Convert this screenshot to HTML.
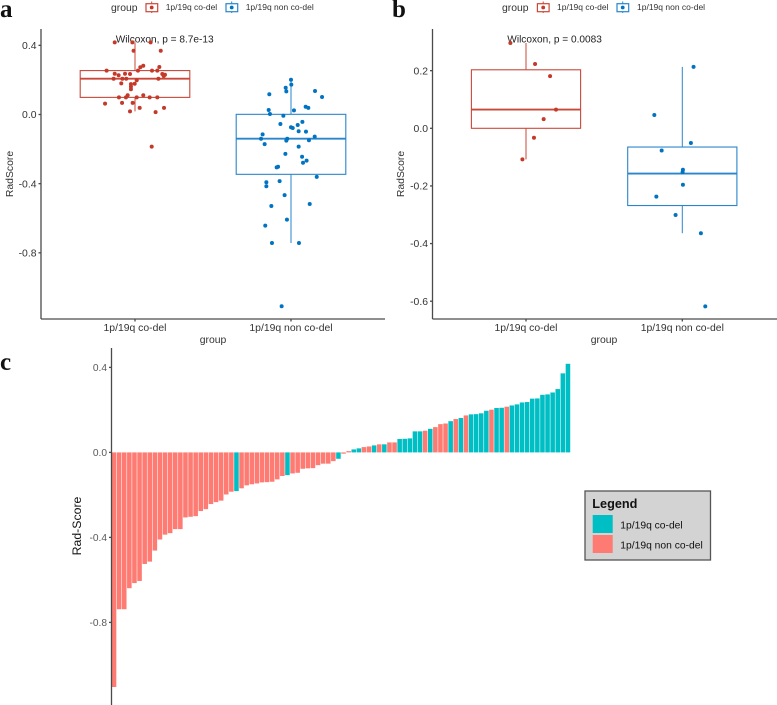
<!DOCTYPE html>
<html lang="en">
<head>
<meta charset="utf-8">
<title>RadScore by 1p/19q status</title>
<style>
html,body{margin:0;padding:0;background:#fff;width:777px;height:705px;overflow:hidden}
svg{display:block;font-family:"Liberation Sans",sans-serif}
.tick{font-size:10.4px;fill:#333}
.tickc{font-size:10.2px;fill:#5a5a5a}
.ax{stroke:#4a4a4a;stroke-width:1.3;fill:none}
.lt{font-size:8.5px;fill:#333}
.gt{font-size:10.4px;fill:#333}
.pl{font-family:"Liberation Serif",serif;font-weight:bold;font-size:25px;fill:#111}
</style>
</head>
<body>
<svg id="chart" width="777" height="705" viewBox="0 0 777 705" xmlns="http://www.w3.org/2000/svg">
  <text class="pl" x="0" y="17">a</text>
  <text class="pl" x="392" y="17">b</text>
  <text class="pl" x="0" y="370">c</text>

  <g>
    <text class="gt" x="111" y="11">group</text>
    <line x1="151.7" x2="151.7" y1="1.5" y2="13" stroke="#C9483A"/>
    <rect x="146" y="3.7" width="11.7" height="8" fill="#fff" stroke="#C9483A" stroke-width="1.2"/>
    <circle cx="151.7" cy="7.5" r="1.9" fill="#C4392A"/>
    <text class="lt" x="165.7" y="10.2">1p/19q co-del</text>
    <line x1="231.7" x2="231.7" y1="1.5" y2="13" stroke="#2A86CC"/>
    <rect x="226" y="3.7" width="11.7" height="8" fill="#fff" stroke="#2A86CC" stroke-width="1.2"/>
    <circle cx="231.7" cy="7.5" r="1.9" fill="#0073C2"/>
    <text class="lt" x="245.7" y="10.2">1p/19q non co-del</text>
  </g>
  <g>
    <text class="gt" x="502" y="11">group</text>
    <line x1="543.2" x2="543.2" y1="1.5" y2="13" stroke="#C9483A"/>
    <rect x="537.4" y="3.7" width="11.7" height="8" fill="#fff" stroke="#C9483A" stroke-width="1.2"/>
    <circle cx="543.2" cy="7.5" r="1.9" fill="#C4392A"/>
    <text class="lt" x="557" y="10.2">1p/19q co-del</text>
    <line x1="622.7" x2="622.7" y1="1.5" y2="13" stroke="#2A86CC"/>
    <rect x="617" y="3.7" width="11.7" height="8" fill="#fff" stroke="#2A86CC" stroke-width="1.2"/>
    <circle cx="622.7" cy="7.5" r="1.9" fill="#0073C2"/>
    <text class="lt" x="637" y="10.2">1p/19q non co-del</text>
  </g>

  <text class="gt" x="213" y="343" text-anchor="middle">group</text>
  <text class="gt" x="604" y="343" text-anchor="middle">group</text>
  <text class="gt" transform="translate(13 174) rotate(-90)" text-anchor="middle">RadScore</text>
  <text class="gt" transform="translate(404 174) rotate(-90)" text-anchor="middle">RadScore</text>
  <text x="115.7" y="42.5" font-size="10.1" fill="#222">Wilcoxon, p = 8.7e-13</text>
  <text x="507.3" y="42.5" font-size="10.1" fill="#222">Wilcoxon, p = 0.0083</text>
  <text transform="translate(81 526) rotate(-90)" text-anchor="middle" font-size="12.3" fill="#111">Rad-Score</text>

  <g>
    <rect x="585" y="491" width="125.5" height="69" fill="#D3D3D3" stroke="#555" stroke-width="1.3"/>
    <text x="592.3" y="508" font-size="12.7" font-weight="bold" fill="#111">Legend</text>
    <rect x="592.7" y="515" width="20" height="18" fill="#00BFC4"/>
    <rect x="592.7" y="535" width="20" height="18" fill="#FD7B72"/>
    <text x="620.3" y="528.5" font-size="10.3" fill="#111">1p/19q co-del</text>
    <text x="620.3" y="548.5" font-size="10.3" fill="#111">1p/19q non co-del</text>
  </g>
</svg>
<script>
// ----- Panel a data -----
const categories = ['1p/19q co-del', '1p/19q non co-del'];
const aTicks = [0.4, 0.0, -0.4, -0.8];
const aTickLabels = ['0.4', '0.0', '-0.4', '-0.8'];
const aCodelValues = [.417,.417,.417,.369,.369,.282,.273,.275,.254,.254,.254,.254,.236,.236,.234,.227,.234,.230,.223,.207,.207,.207,.207,.198,.180,.176,.178,.161,.146,.111,.099,.099,.099,.111,.099,.099,.063,.067,.067,.038,.038,.018,.014,-.186];
const aCodelJitter = [-.130,-.017,.100,-.009,.165,.053,.034,.156,-.182,.019,.109,.143,-.130,-.064,-.032,-.105,.175,.192,.184,-.137,-.081,-.056,.150,.011,-.088,-.026,-.002,-.026,-.026,-.047,-.103,-.058,.011,.053,.094,.143,-.192,-.083,-.015,.030,.186,-.032,.132,.107];
const aNonValues = [.201,.173,.155,.134,.136,.117,.101,.045,.038,.026,.024,.003,-.007,-.055,-.043,-.061,-.074,-.078,-.097,-.099,-.115,-.128,-.140,-.140,-.151,-.149,-.171,-.186,-.228,-.244,-.267,-.279,-.302,-.306,-.361,-.392,-.385,-.415,-.466,-.518,-.529,-.608,-.643,-.743,-.743,-1.109];
const aNonJitter = [0,.002,-.034,-.030,.154,-.139,.199,.094,.111,-.143,.019,-.135,-.049,-.068,.073,.043,0,.011,.049,.096,-.182,.152,-.192,-.024,-.030,.115,-.169,.049,-.036,.071,.100,.077,-.083,-.092,.165,-.158,-.073,-.158,-.041,.120,-.126,-.026,-.165,-.122,.051,-.060];
const aQ1 = [.099, -.346];
const aMedian = [.207, -.140];
const aQ3 = [.254, .001];
const aWhiskerLow = [.018, -.743];
const aWhiskerHigh = [.417, .201];

// ----- Panel b data -----
const bTicks = [0.2, 0.0, -0.2, -0.4, -0.6];
const bTickLabels = ['0.2', '0.0', '-0.2', '-0.4', '-0.6'];
const bCodelValues = [.296,.223,.181,.065,.032,-.033,-.108];
const bCodelJitter = [-.100,.058,.154,.192,.113,.051,-.023];
const bNonValues = [.213,.046,-.051,-.077,-.144,-.152,-.196,-.237,-.301,-.364,-.618];
const bNonJitter = [.072,-.179,.055,-.132,.004,.002,.004,-.166,-.043,.119,.147];
const bQ1 = [0.0, -.268];
const bMedian = [.065, -.157];
const bQ3 = [.203, -.065];
const bWhiskerLow = [-.108, -.364];
const bWhiskerHigh = [.296, .213];

// ----- Panel c data -----
const cTicks = [0.4, 0.0, -0.4, -0.8];
const cTickLabels = ['0.4', '0.0', '-0.4', '-0.8'];
const cBarValues = [-1.104,-.738,-.738,-.639,-.615,-.605,-.525,-.514,-.462,-.41,-.387,-.38,-.361,-.361,-.306,-.303,-.30,-.276,-.267,-.243,-.234,-.227,-.198,-.185,-.182,-.169,-.155,-.15,-.146,-.141,-.14,-.138,-.127,-.111,-.107,-.099,-.096,-.077,-.075,-.074,-.06,-.053,-.053,-.041,-.03,-.006,.006,.014,.019,.025,.028,.033,.038,.038,.047,.047,.063,.064,.066,.099,.099,.102,.111,.119,.133,.136,.147,.157,.162,.174,.179,.180,.184,.196,.201,.209,.210,.215,.221,.226,.235,.237,.253,.254,.271,.273,.282,.298,.372,.417];
const cBarGroups = ['n','n','n','n','n','n','n','n','n','n','n','n','n','n','n','n','n','n','n','n','n','n','n','n','c','n','n','n','n','n','n','n','n','n','c','n','n','n','n','n','n','n','n','n','c','n','n','c','c','n','n','c','n','c','n','n','c','c','c','c','c','n','c','n','n','n','c','n','c','n','c','c','c','c','n','c','c','n','c','c','c','c','c','c','c','c','c','c','c','c'];

// ----- Drawing -----
const NS = 'http://www.w3.org/2000/svg';
const root = document.getElementById('chart');
const RED_LINE = '#C9483A', RED_DOT = '#C4392A', BLUE_LINE = '#2A86CC', BLUE_DOT = '#0073C2';

function make(tag, attrs, parent) {
  const node = document.createElementNS(NS, tag);
  for (const k in attrs) node.setAttribute(k, attrs[k]);
  (parent || root).appendChild(node);
  return node;
}

function drawAxes(p, prefix, ticks, labels, tickClass, withCategories) {
  const g = make('g', {});
  
  
  const yAxis = make('line', {x1: p.left, x2: p.left, y1: p.top, y2: p.bottom, class: 'ax'}, g);
  
  
  ticks.forEach(function (t, i) {
    const y = p.y(t);
    const tk = make('line', {x1: p.left - 2.5, x2: p.left, y1: y, y2: y, class: 'ax'}, g);
    
    
    const lb = make('text', {x: p.left - 4.5, y: y + 3.6, 'text-anchor': 'end', class: tickClass}, g);
    lb.textContent = labels[i];
    
    
  });
  if (withCategories) {
    const xAxis = make('line', {x1: p.left, x2: p.right, y1: p.bottom, y2: p.bottom, class: 'ax'}, g);
    
    
    categories.forEach(function (c, i) {
      const x = p.x(i);
      const tk = make('line', {x1: x, x2: x, y1: p.bottom, y2: p.bottom + 2.5, class: 'ax'}, g);
      
      
      const lb = make('text', {x: x, y: p.bottom + 12, 'text-anchor': 'middle', class: 'tick'}, g);
      lb.textContent = c;
      
      
    });
  }
}

function drawBoxes(p, prefix, q1, med, q3, lo, hi) {
  [RED_LINE, BLUE_LINE].forEach(function (color, i) {
    const x = p.x(i), hw = p.boxHalf;
    const g = make('g', {stroke: color, fill: 'none'});
    
    
    const up = make('line', {x1: x, x2: x, y1: p.y(hi[i]), y2: p.y(q3[i]), 'stroke-width': 1}, g);
    
    
    const dn = make('line', {x1: x, x2: x, y1: p.y(q1[i]), y2: p.y(lo[i]), 'stroke-width': 1}, g);
    
    
    const box = make('rect', {x: x - hw, width: hw * 2, y: p.y(q3[i]), height: p.y(q1[i]) - p.y(q3[i]), 'stroke-width': 1.1}, g);
    
    
    const m = make('line', {x1: x - hw, x2: x + hw, y1: p.y(med[i]), y2: p.y(med[i]), 'stroke-width': 1.8}, g);
    
    
  });
}

function drawDots(p, prefix, cat, values, jitter, color) {
  values.forEach(function (v, i) {
    const d = make('circle', {cx: p.x(cat + jitter[i]), cy: p.y(v), r: 2, fill: color});
    
    
  });
}

const panelA = {
  left: 41, right: 385, top: 29, bottom: 319, boxHalf: 54.8,
  x: function (c) { return 135 + 156 * c; },
  y: function (v) { return 114.5 - 172.9 * v; }
};
const panelB = {
  left: 432.5, right: 777, top: 29, bottom: 319, boxHalf: 54.6,
  x: function (c) { return 526 + 156.3 * c; },
  y: function (v) { return 128.3 - 288.2 * v; }
};
const panelC = {
  left: 111.5, right: 571, top: 348, bottom: 705,
  step: 5.1, barWidth: 4.55,
  x: function (i) { return 111.5 + 5.1 * i; },
  y: function (v) { return 452.4 - 212.5 * v; }
};

drawAxes(panelA, 'panel-a', aTicks, aTickLabels, 'tick', true);
drawBoxes(panelA, 'panel-a', aQ1, aMedian, aQ3, aWhiskerLow, aWhiskerHigh);
drawDots(panelA, 'panel-a-codel', 0, aCodelValues, aCodelJitter, RED_DOT);
drawDots(panelA, 'panel-a-noncodel', 1, aNonValues, aNonJitter, BLUE_DOT);

drawAxes(panelB, 'panel-b', bTicks, bTickLabels, 'tick', true);
drawBoxes(panelB, 'panel-b', bQ1, bMedian, bQ3, bWhiskerLow, bWhiskerHigh);
drawDots(panelB, 'panel-b-codel', 0, bCodelValues, bCodelJitter, RED_DOT);
drawDots(panelB, 'panel-b-noncodel', 1, bNonValues, bNonJitter, BLUE_DOT);

cBarValues.forEach(function (v, i) {
  const y0 = panelC.y(0), yv = panelC.y(v);
  const bar = make('rect', {
    x: panelC.x(i) + (panelC.step - panelC.barWidth) / 2,
    y: Math.min(y0, yv),
    width: panelC.barWidth,
    height: Math.abs(yv - y0),
    fill: cBarGroups[i] === 'c' ? '#00BFC4' : '#FD7B72'
  });
  
  
});
drawAxes(panelC, 'panel-c', cTicks, cTickLabels, 'tickc', false);
</script>
</body>
</html>
